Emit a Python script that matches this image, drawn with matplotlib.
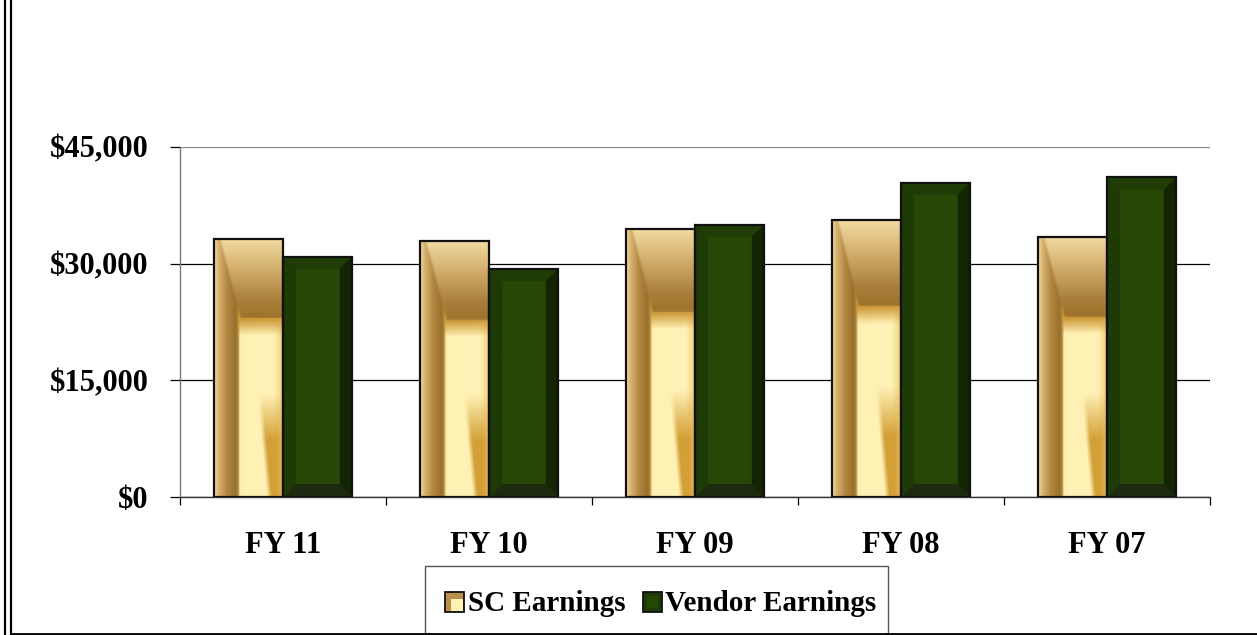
import numpy as np
import matplotlib
matplotlib.use("Agg")
import matplotlib.pyplot as plt
from matplotlib.patches import Rectangle
from matplotlib.lines import Line2D

categories = ["FY 11", "FY 10", "FY 09", "FY 08", "FY 07"]
sc_earnings = [33200, 32900, 34500, 35550, 33450]
vendor_earnings = [30900, 29300, 35000, 40400, 41050]
y_ticks = [0, 15000, 30000, 45000]
y_tick_labels = ["$0", "$15,000", "$30,000", "$45,000"]
series_names = ["SC Earnings", "Vendor Earnings"]

W, H = 1257, 635
fig = plt.figure(figsize=(W / 100, H / 100), dpi=100)
fig.patch.set_facecolor("white")
plt.rcParams["font.family"] = ["Liberation Serif", "DejaVu Serif"]
plt.rcParams["font.weight"] = "bold"

ax = fig.add_axes([180 / W, 1 - 497.3 / H, (1210 - 180) / W, (497.3 - 146.7) / H])
ax.set_xlim(-0.5, len(categories) - 0.5)
ax.set_ylim(0, 45000)


def interp_cols(t, stops, cols):
    cols = np.asarray(cols, dtype=float)
    out = np.stack([np.interp(t, stops, cols[:, c]) for c in range(3)], axis=-1)
    return out


def gold_image(h, w):
    u = np.linspace(0, 1, w)[None, :] * np.ones((h, 1))
    v = np.linspace(1, 0, h)[:, None] * np.ones((1, w))
    # lower horizontal profile
    low = interp_cols(u, [0.0, 0.05, 0.18, 0.31, 0.345, 0.37, 0.86, 0.95, 1.0],
                      [[0.96, 0.87, 0.66], [0.86, 0.72, 0.46], [0.70, 0.53, 0.26],
                       [0.60, 0.44, 0.17], [0.70, 0.55, 0.24], [1.0, 0.94, 0.70],
                       [1.0, 0.95, 0.72], [0.97, 0.86, 0.55], [0.93, 0.78, 0.45]])
    img = low.copy()
    # transition band under top region
    band = np.clip((v - 0.625) / 0.06, 0, 1)[..., None]
    band_col = interp_cols(u, [0, 0.37, 1], [[0.80, 0.62, 0.30], [0.80, 0.60, 0.22], [0.82, 0.62, 0.24]])
    mask_r = (u > 0.34)[..., None]
    img = np.where(mask_r, img * (1 - band) + band_col * band, img)
    # top region
    top_col = interp_cols(v, [0.68, 0.70, 0.76, 0.88, 1.0],
                          [[0.72, 0.54, 0.20], [0.62, 0.45, 0.18], [0.66, 0.50, 0.23],
                           [0.82, 0.68, 0.42], [0.95, 0.86, 0.64]])
    boundary = 0.06 + (1 - v) / 0.31 * 0.30
    in_top = np.clip((u - boundary) / 0.04, 0, 1) * (v > 0.69)
    in_top = in_top[..., None]
    img = img * (1 - in_top) + top_col * in_top
    # lower-right gold
    b = 0.62 + np.clip(0.40 - v, 0, 0.4) * 0.35
    su = np.clip((u - b) / 0.07, 0, 1)
    sv = np.clip((0.40 - v) / 0.18, 0, 1)
    s = (su * sv)[..., None]
    gold = interp_cols(u, [0, 0.9, 1.0], [[0.83, 0.63, 0.22], [0.83, 0.63, 0.22], [0.90, 0.72, 0.35]])
    img = img * (1 - s) + gold * s
    return np.clip(img, 0, 1)


def green_image(h, w, bev=13):
    img = np.zeros((h, w, 3))
    center = np.array([0x27, 0x47, 0x06]) / 255
    left = np.array([0x1e, 0x3a, 0x05]) / 255
    top = np.array([0x1f, 0x3d, 0x05]) / 255
    right = np.array([0x13, 0x25, 0x02]) / 255
    bottom = np.array([0x1d, 0x2a, 0x0f]) / 255
    img[:] = center
    yy, xx = np.mgrid[0:h, 0:w]
    dl = xx
    dr = w - 1 - xx
    dt = yy
    db = h - 1 - yy
    dmin = np.minimum(np.minimum(dl, dr), np.minimum(dt, db))
    edge = dmin < bev
    which = np.argmin(np.stack([dl, dr, dt, db]), axis=0)
    for k, col in enumerate([left, right, top, bottom]):
        img[edge & (which == k)] = col
    return img


n = len(categories)
idx = np.arange(n)
bw = 0.336
bar_sets = [(idx - bw / 2, sc_earnings, gold_image), (idx + bw / 2, vendor_earnings, green_image)]
for xs, vals, maker in bar_sets:
    bars = ax.bar(xs, vals, width=bw, facecolor="none", edgecolor="#111111", linewidth=1.6, zorder=4)
    for rect in bars:
        x0, y0 = rect.get_x(), rect.get_y()
        w, h = rect.get_width(), rect.get_height()
        p0 = ax.transData.transform((x0, y0))
        p1 = ax.transData.transform((x0 + w, y0 + h))
        pw = max(int(round(p1[0] - p0[0])), 2)
        ph = max(int(round(p1[1] - p0[1])), 2)
        img = maker(ph, pw)
        ax.imshow(img, extent=(x0, x0 + w, y0, y0 + h), aspect="auto",
                  interpolation="bilinear", zorder=3)

ax.set_xlim(-0.5, n - 0.5)
ax.set_ylim(0, 45000)

# grid
ax.set_yticks(y_ticks)
ax.set_yticklabels(y_tick_labels)
ax.yaxis.grid(True, color="black", linewidth=0.9, zorder=1)
ax.set_axisbelow(True)
ax.get_ygridlines()[-1].set_color("#888888")
ax.get_ygridlines()[-1].set_linewidth(1.6)

ax.set_xticks(idx)
ax.set_xticklabels(categories)
ax.set_xticks(np.arange(n + 1) - 0.5, minor=True)
ax.tick_params(axis="x", which="major", length=0, pad=24.5, labelsize=22)
ax.tick_params(axis="x", which="minor", length=6, width=0.9, color="black", direction="out")
ax.tick_params(axis="y", which="major", length=7.5, width=0.9, color="black", pad=15, labelsize=22)
for lab in ax.get_xticklabels() + ax.get_yticklabels():
    lab.set_fontweight("bold")
    lab.set_fontfamily(["Liberation Serif", "DejaVu Serif"])

for s in ["top", "right"]:
    ax.spines[s].set_visible(False)
ax.spines["left"].set_color("#777777")
ax.spines["left"].set_linewidth(1.0)
ax.spines["bottom"].set_color("#333333")
ax.spines["bottom"].set_linewidth(1.0)


class GoldHandler:
    def legend_artist(self, legend, orig_handle, fontsize, handlebox):
        x0, y0 = handlebox.xdescent, handlebox.ydescent
        w, h = handlebox.width, handlebox.height
        tr = handlebox.get_transform()
        outer = Rectangle((x0, y0), w, h, facecolor="#b8924c", edgecolor="#111111", lw=1.3, transform=tr)
        inner = Rectangle((x0 + w * 0.32, y0 + h * 0.05), w * 0.6, h * 0.6, facecolor="#fff2b4",
                          edgecolor="none", transform=tr)
        handlebox.add_artist(outer)
        handlebox.add_artist(inner)
        return outer


class GreenHandler:
    def legend_artist(self, legend, orig_handle, fontsize, handlebox):
        x0, y0 = handlebox.xdescent, handlebox.ydescent
        w, h = handlebox.width, handlebox.height
        tr = handlebox.get_transform()
        outer = Rectangle((x0, y0), w, h, facecolor="#1e3a06", edgecolor="#111111", lw=1.3, transform=tr)
        inner = Rectangle((x0 + w * 0.2, y0 + h * 0.2), w * 0.6, h * 0.6, facecolor="#274707",
                          edgecolor="none", transform=tr)
        handlebox.add_artist(outer)
        handlebox.add_artist(inner)
        return outer


# legend frame box (extends to the bottom border)
fig.add_artist(Rectangle((425 / W, -0.01), (888 - 425) / W, 0.01 + (H - 566) / H,
                         transform=fig.transFigure, facecolor="white", edgecolor="#555555",
                         lw=1.0, zorder=5))

h_sc = Rectangle((0, 0), 1, 1)
h_vd = Rectangle((0, 0), 1, 1)
leg = fig.legend([h_sc, h_vd], series_names, loc="center",
                 bbox_to_anchor=(661 / W, 1 - 603.5 / H), ncol=2,
                 handler_map={h_sc: GoldHandler(), h_vd: GreenHandler()},
                 prop={"family": ["Liberation Serif"], "weight": "bold", "size": 21},
                 handlelength=0.65, handleheight=0.65, handletextpad=0.12,
                 columnspacing=0.6, borderpad=0.0, borderaxespad=0.0, frameon=False)
leg.set_zorder(6)

# outer frame lines
fig.add_artist(Line2D([4.7 / W, 4.7 / W], [0, 1], transform=fig.transFigure, color="black", lw=1.6, zorder=7))
fig.add_artist(Line2D([10.5 / W, 10.5 / W], [1.5 / H, 1], transform=fig.transFigure, color="black", lw=1.6, zorder=7))
fig.add_artist(Line2D([10.5 / W, 1], [1.5 / H, 1.5 / H], transform=fig.transFigure, color="black", lw=2.0, zorder=7))

fig.savefig("out.png", dpi=100, facecolor="white")
